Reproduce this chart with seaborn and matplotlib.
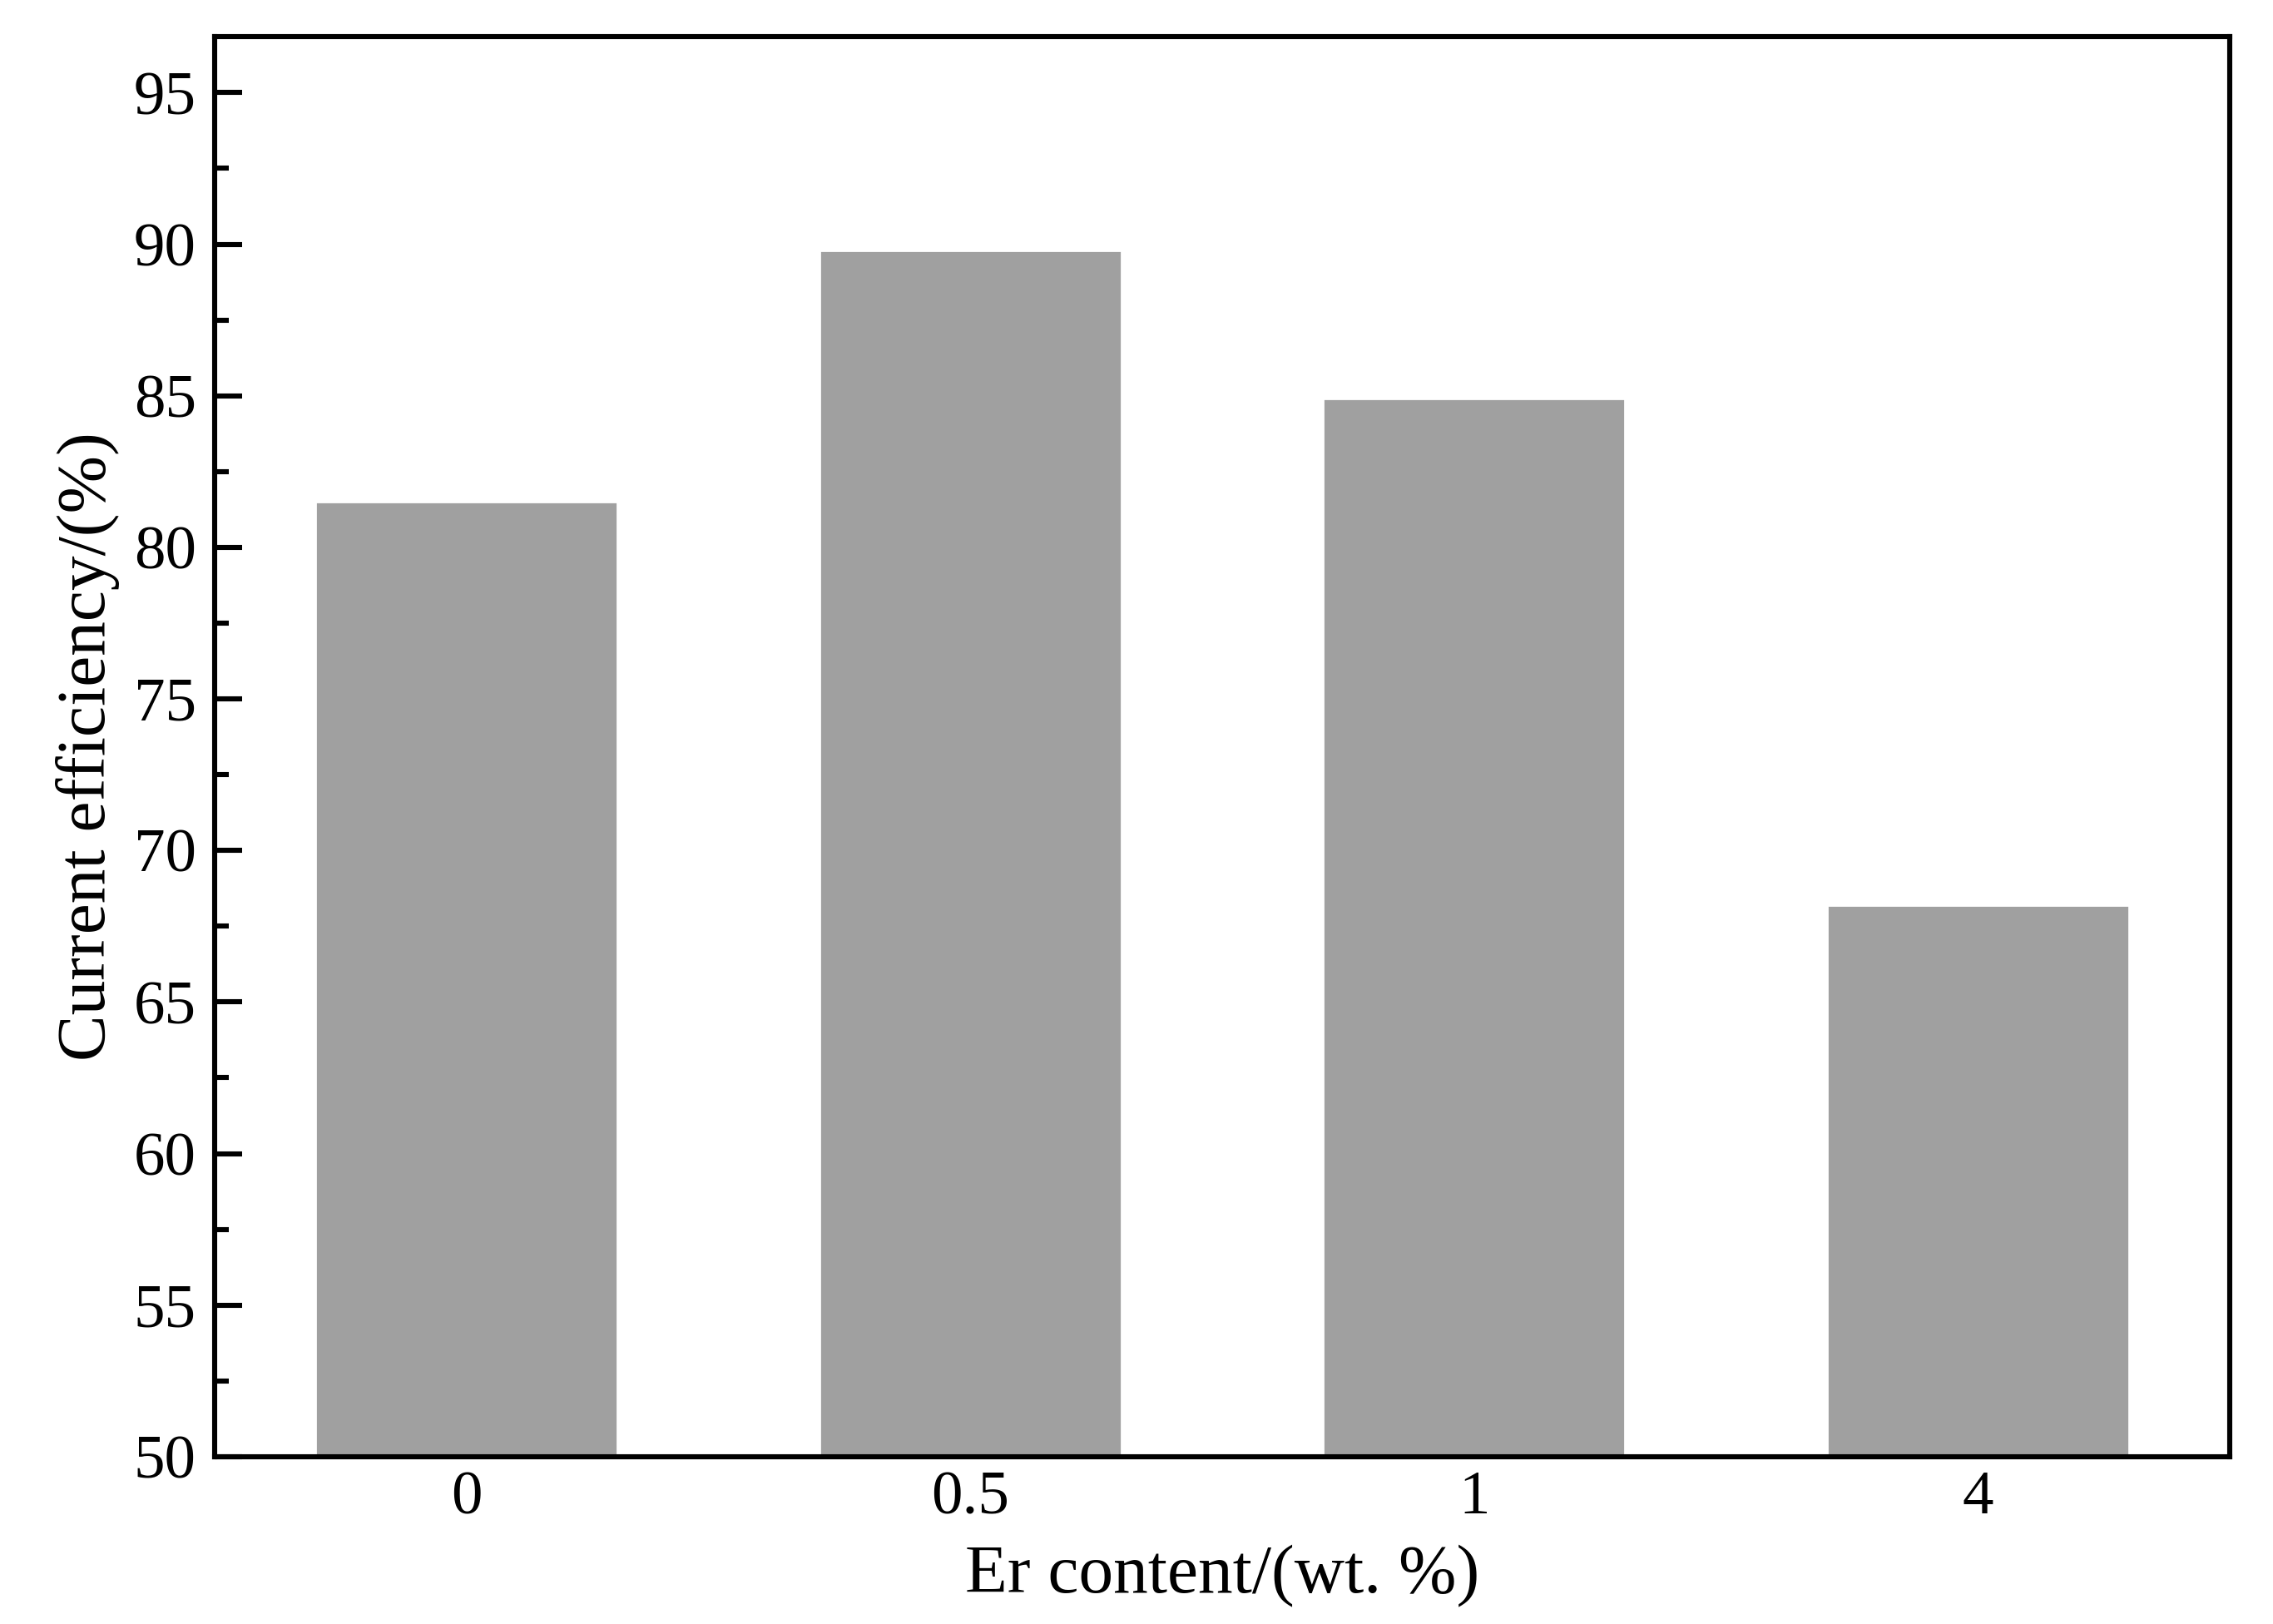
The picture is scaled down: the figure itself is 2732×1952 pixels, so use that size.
import numpy as np
import pandas as pd
import matplotlib
matplotlib.use('Agg')
import matplotlib.pyplot as plt
import seaborn as sns
from matplotlib.ticker import MultipleLocator

er_content = ['0', '0.5', '1', '4']
efficiency = [81.5, 89.8, 84.9, 68.2]

df = pd.DataFrame({'er': er_content, 'eff': efficiency})

sns.set_theme(style='ticks')
plt.rcParams['font.family'] = ['Liberation Serif', 'DejaVu Serif']
plt.rcParams['text.color'] = 'black'
plt.rcParams['axes.labelcolor'] = 'black'
plt.rcParams['xtick.color'] = 'black'
plt.rcParams['ytick.color'] = 'black'

fig = plt.figure(figsize=(13.66, 9.76), dpi=200)
ax = fig.add_axes([0.0944, 0.103, 0.8866, 0.8745])

sns.barplot(data=df, x='er', y='eff', color='#a0a0a0', saturation=1,
            width=0.6, ax=ax, order=er_content)

ax.set_ylim(50, 96.85)
ax.set_xlim(-0.5, 3.5)
ax.yaxis.set_major_locator(MultipleLocator(5))
ax.yaxis.set_minor_locator(MultipleLocator(2.5))
ax.tick_params(axis='y', which='major', direction='in', length=12, width=2.2,
               labelsize=27, pad=8)
ax.tick_params(axis='y', which='minor', direction='in', length=6, width=2.2)
ax.tick_params(axis='x', which='both', length=0, labelsize=27, pad=6)

for s in ax.spines.values():
    s.set_color('black')
    s.set_linewidth(2.2)

ax.set_xlabel('Er content/(wt. %)', fontsize=30, labelpad=8)
ax.set_ylabel('Current efficiency/(%)', fontsize=30, labelpad=6)

fig.savefig('out.png', dpi=200)
